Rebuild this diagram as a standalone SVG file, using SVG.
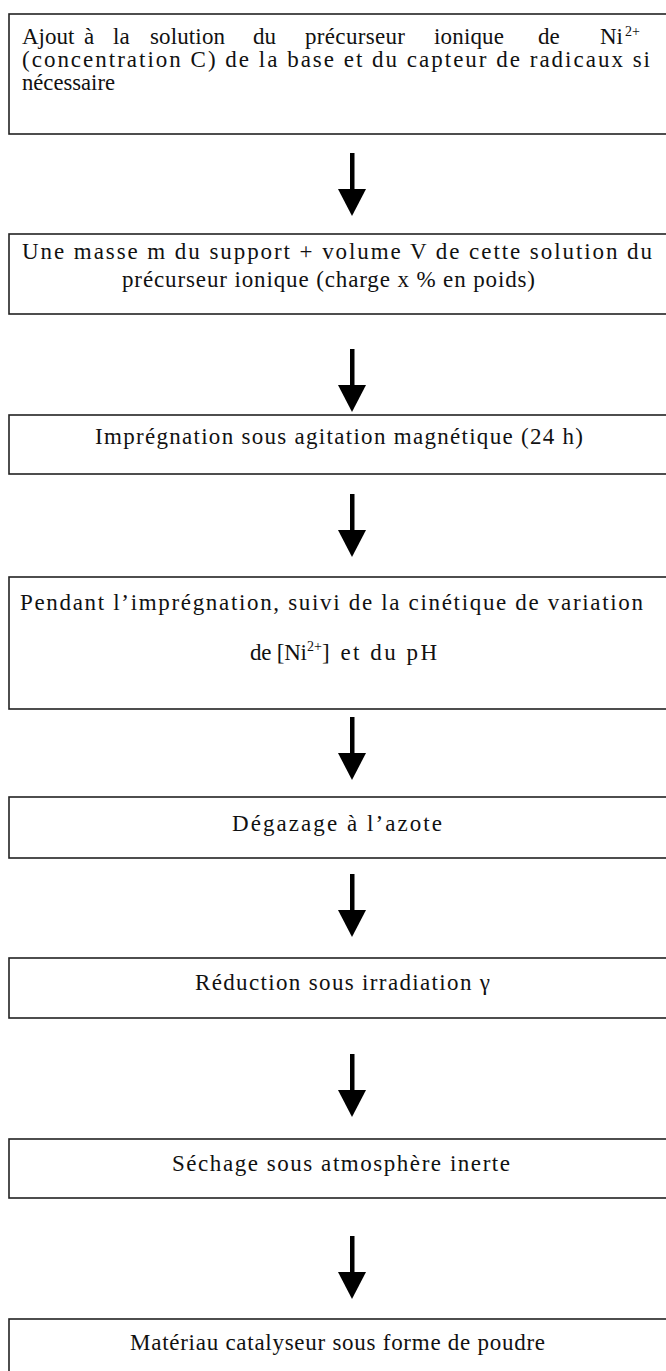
<svg xmlns="http://www.w3.org/2000/svg" width="666" height="1371" viewBox="0 0 666 1371">
<style>
.box{fill:#fff;stroke:#222;stroke-width:1.6}
.t{font-family:"Liberation Serif","Times New Roman",serif;font-size:23px;fill:#111}
.sup{font-family:"Liberation Serif","Times New Roman",serif;font-size:14px;fill:#111}
.arr{fill:#000}
</style>
<defs>
<g id="arrow"><rect x="-2" y="0" width="4.5" height="40"/><polygon points="-14,36 14,36 0,63"/></g>
</defs>
<rect width="666" height="1371" fill="#fff"/>
<g id="n1">
<rect class="box" x="9" y="14" width="670" height="120"/>
<text class="t" x="22" y="44">Ajout</text>
<text class="t" x="84" y="44">à</text>
<text class="t" x="113" y="44">la</text>
<text class="t" x="150" y="44" textLength="75">solution</text>
<text class="t" x="253" y="44">du</text>
<text class="t" x="305" y="44" textLength="100">précurseur</text>
<text class="t" x="434" y="44" textLength="70">ionique</text>
<text class="t" x="538" y="44">de</text>
<text class="t" x="600" y="44">Ni</text>
<text class="sup" x="625" y="36">2+</text>
<text class="t" x="22" y="67" textLength="628">(concentration C) de la base et du capteur de radicaux si</text>
<text class="t" x="22" y="90" textLength="93" lengthAdjust="spacingAndGlyphs">nécessaire</text>
</g>
<g id="n2">
<rect class="box" x="9" y="234" width="670" height="80"/>
<text class="t" x="22" y="259" textLength="630">Une masse m du support + volume V de cette solution du</text>
<text class="t" x="122" y="287" textLength="413">précurseur ionique (charge x % en poids)</text>
</g>
<g id="n3">
<rect class="box" x="9" y="415" width="670" height="59"/>
<text class="t" x="95" y="444" textLength="488">Imprégnation sous agitation magnétique (24 h)</text>
</g>
<g id="n4">
<rect class="box" x="9" y="577" width="670" height="132"/>
<text class="t" x="20" y="610" textLength="623">Pendant l’imprégnation, suivi de la cinétique de variation</text>
<text class="t" x="250" y="660" textLength="57">de [Ni</text>
<text class="sup" x="307" y="651">2+</text>
<text class="t" x="322" y="660" textLength="115">] et du pH</text>
</g>
<g id="n5">
<rect class="box" x="9" y="797" width="670" height="61"/>
<text class="t" x="232" y="831" textLength="210">Dégazage à l’azote</text>
</g>
<g id="n6">
<rect class="box" x="9" y="958" width="670" height="60"/>
<text class="t" x="195" y="990" textLength="295">Réduction sous irradiation γ</text>
</g>
<g id="n7">
<rect class="box" x="9" y="1139" width="670" height="59"/>
<text class="t" x="172" y="1171" textLength="338">Séchage sous atmosphère inerte</text>
</g>
<g id="n8">
<rect class="box" x="9" y="1319" width="670" height="60"/>
<text class="t" x="130" y="1350" textLength="415">Matériau catalyseur sous forme de poudre</text>
</g>
<g id="connectors" class="arr">
<use href="#arrow" x="352" y="153"/>
<use href="#arrow" x="352" y="349"/>
<use href="#arrow" x="352" y="494"/>
<use href="#arrow" x="352" y="717"/>
<use href="#arrow" x="352" y="874"/>
<use href="#arrow" x="352" y="1054"/>
<use href="#arrow" x="352" y="1236"/>
</g>
</svg>
